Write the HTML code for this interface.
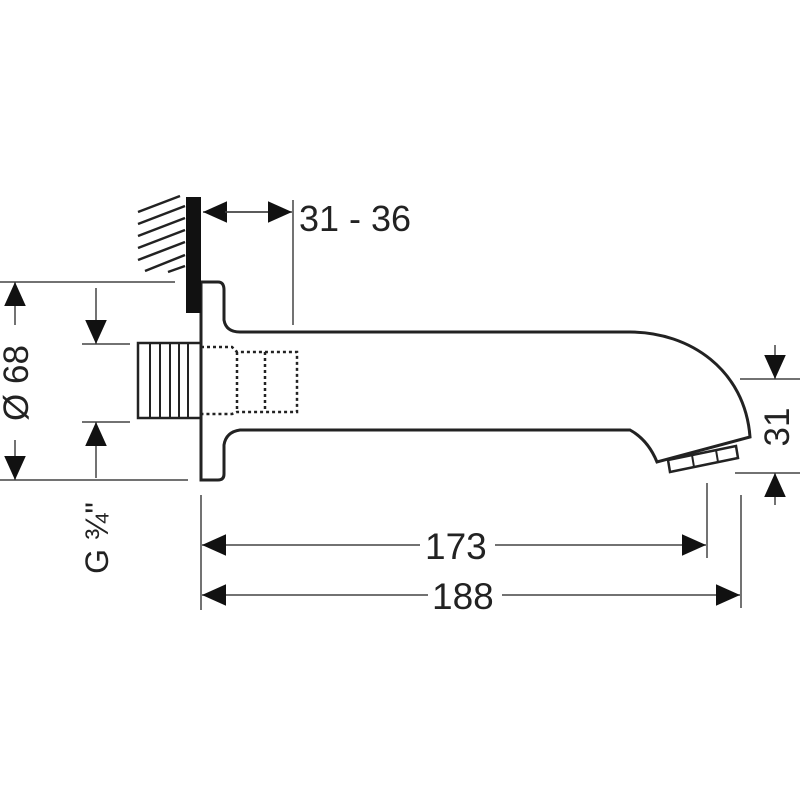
<!DOCTYPE html>
<html><head><style>
html,body{margin:0;padding:0;background:#fff;}
svg{display:block}
text{font-family:"Liberation Sans",sans-serif;fill:#222;}
</style></head><body>
<svg width="800" height="800" viewBox="0 0 800 800" xmlns="http://www.w3.org/2000/svg">
<defs>
<marker id="a" viewBox="0 0 10 10" refX="10" refY="5" markerWidth="24" markerHeight="24" markerUnits="userSpaceOnUse" orient="auto"><path d="M0,0.5 L10,5 L0,9.5 z" fill="#111"/></marker>
</defs>
<g stroke="#222" stroke-width="2" fill="none">
<g stroke-width="2.5">
<line x1="138" y1="212" x2="180" y2="196"/>
<line x1="138" y1="224" x2="185" y2="206"/>
<line x1="138" y1="236" x2="185" y2="218"/>
<line x1="138" y1="248" x2="185" y2="230"/>
<line x1="138" y1="260" x2="185" y2="242"/>
<line x1="145" y1="271" x2="185" y2="255"/>
<line x1="168" y1="272" x2="185" y2="266"/>
</g>
<path d="M201,282 L218,282 Q224,282 224,290 L224,320 Q226,332 240,332 L630,332 C690,332 745,370 750,437 L657,462 Q648,440 630,430 L240,430 Q226,432 224,445 L224,474 Q224,480 218,480 L201,480 Z" stroke-width="3"/>
<path d="M668,460 L736,446 L738,458 L670,472 Z" stroke-width="2.5"/>
<line x1="692" y1="455" x2="694" y2="467"/><line x1="716" y1="450" x2="718" y2="462"/>
<rect x="138" y="343" width="63" height="75" stroke-width="2.5"/>
<line x1="150" y1="343" x2="150" y2="418"/><line x1="160" y1="343" x2="160" y2="418"/><line x1="170" y1="343" x2="170" y2="418"/><line x1="179" y1="343" x2="179" y2="418"/><line x1="188" y1="343" x2="188" y2="418"/>
<g stroke-dasharray="3,3" stroke-width="2.5">
<path d="M201,347 L232,347 L237,352 L297,352 L297,412 L237,412 L232,414 L201,414"/>
<line x1="237" y1="352" x2="237" y2="412"/>
<line x1="265" y1="352" x2="265" y2="412"/>
</g>
<g stroke-width="1.5" stroke="#444">
<line x1="0" y1="282" x2="175" y2="282"/>
<line x1="0" y1="480" x2="188" y2="480"/>
<line x1="15" y1="325" x2="15" y2="282" marker-end="url(#a)"/>
<line x1="15" y1="440" x2="15" y2="480" marker-end="url(#a)"/>
<line x1="82" y1="344" x2="130" y2="344"/>
<line x1="82" y1="422" x2="130" y2="422"/>
<line x1="96" y1="288" x2="96" y2="344" marker-end="url(#a)"/>
<line x1="96" y1="478" x2="96" y2="422" marker-end="url(#a)"/>
<line x1="270" y1="212" x2="203" y2="212" marker-end="url(#a)"/>
<line x1="225" y1="212" x2="292" y2="212" marker-end="url(#a)"/>
<line x1="293" y1="200" x2="293" y2="325"/>
<line x1="740" y1="379" x2="800" y2="379"/>
<line x1="735" y1="473" x2="800" y2="473"/>
<line x1="775" y1="345" x2="775" y2="379" marker-end="url(#a)"/>
<line x1="775" y1="505" x2="775" y2="473" marker-end="url(#a)"/>
<line x1="201" y1="495" x2="201" y2="610"/>
<line x1="707" y1="483" x2="707" y2="558"/>
<line x1="741" y1="495" x2="741" y2="608"/>
<line x1="420" y1="545" x2="202" y2="545" marker-end="url(#a)"/>
<line x1="495" y1="545" x2="706" y2="545" marker-end="url(#a)"/>
<line x1="428" y1="595" x2="202" y2="595" marker-end="url(#a)"/>
<line x1="502" y1="595" x2="740" y2="595" marker-end="url(#a)"/>
</g>
</g>
<rect x="186" y="197" width="15" height="116" fill="#111"/>
<text x="299" y="231" font-size="36">31 - 36</text>
<text x="425" y="559" font-size="37">173</text>
<text x="432" y="609" font-size="37">188</text>
<text transform="translate(28,383) rotate(-90)" text-anchor="middle" font-size="35">Ø 68</text>
<text transform="translate(108,538) rotate(-90)" text-anchor="middle" font-size="32">G ¾"</text>
<text transform="translate(789,427) rotate(-90)" text-anchor="middle" font-size="35">31</text>
</svg>
</body></html>
